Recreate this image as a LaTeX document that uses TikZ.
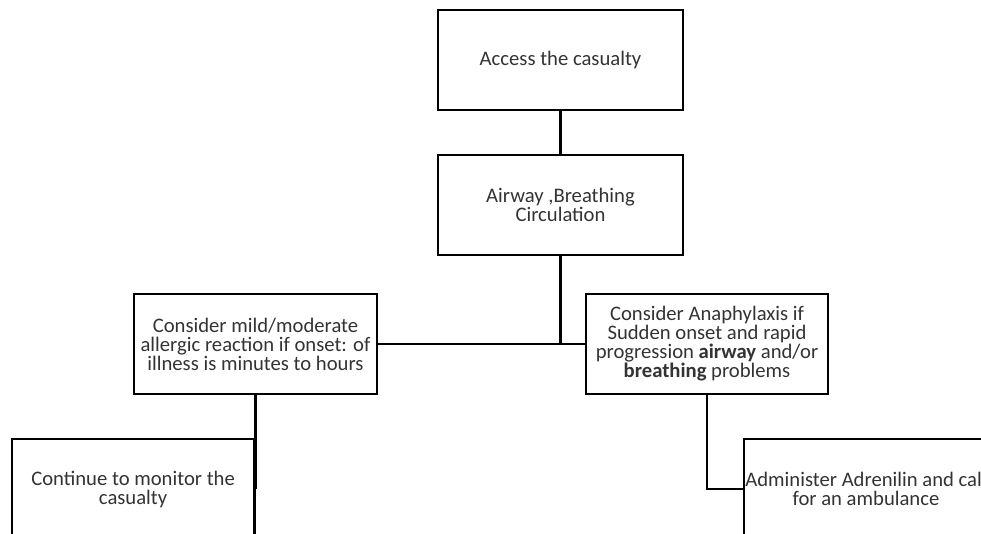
\documentclass[tikz,border=0pt]{standalone}
\usepackage{fontspec}
\setmainfont{Carlito}
\usetikzlibrary{positioning}

\begin{document}
\begin{tikzpicture}
    [x=0.75pt,y=-0.75pt,
    box/.style={draw,line width=1.6pt,minimum width=182pt,minimum height=75pt,
      align=center,inner sep=1pt,font=\fontsize{15.5}{14.25}\selectfont,text=black!80},
    link/.style={line width=1.6pt}]
    \useasboundingbox (0,0) rectangle (981,534);
    \clip (0,0) rectangle (981,534);
    \node[box,minimum width=183.75pt] (access) at (560.5,60) {Access the casualty};
    \node[box,minimum width=183.75pt] (abc) [below=32.25pt of access] {Airway ,Breathing\\Circulation};
    \node[box] (mild) at (255.5,344) {Consider mild/moderate\\allergic reaction if onset: of\\illness is minutes to hours};
    \node[box] (anaph) at (707,344) {Consider Anaphylaxis if\\Sudden onset and rapid\\progression \textbf{airway} and/or\\\textbf{breathing} problems};
    \node[box] (monitor) [below=32.25pt of mild.south,anchor=north east] {Continue to monitor the\\casualty};
    \node[box] (adren) [below right=32.25pt and 27pt of anaph.south] {Administer Adrenilin and call\\for an ambulance};
    \draw[link] (access) -- (abc);
    \draw[link] (abc.south) -- (abc.south |- mild.east) coordinate (fork);
    \draw[link] (mild.east) -- (anaph.west);
    \draw[link] (mild.south) -- (monitor.east);
    \draw[link] (anaph.south) |- (adren.west);
\end{tikzpicture}
\end{document}
